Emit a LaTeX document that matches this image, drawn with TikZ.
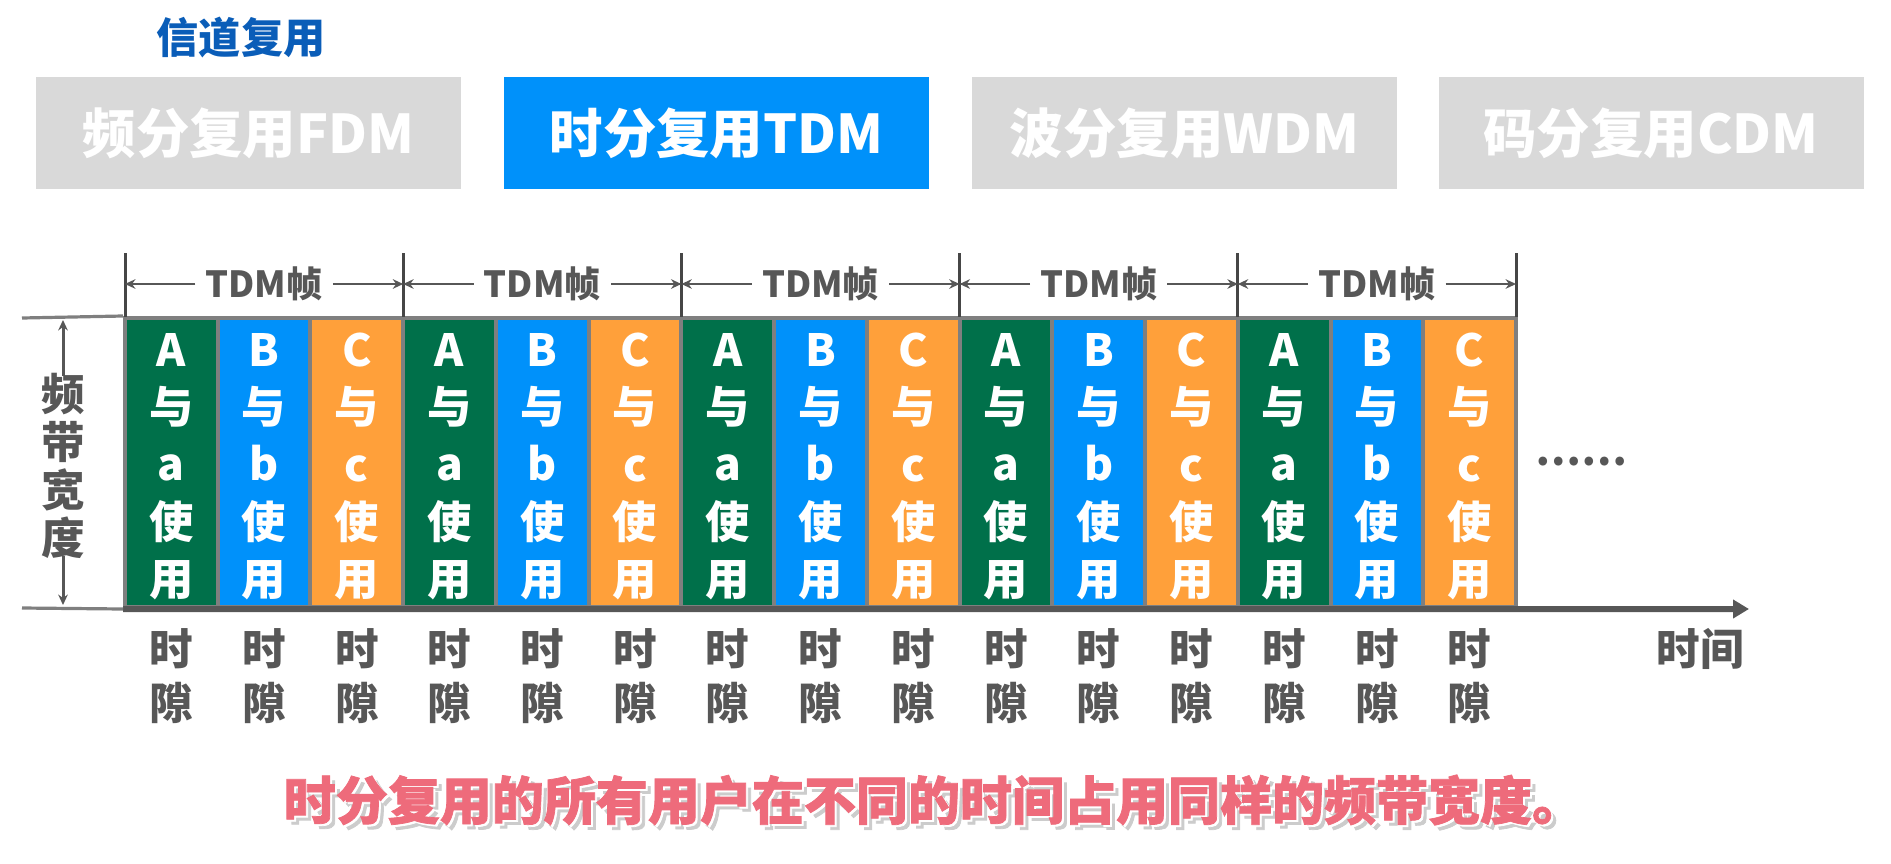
\documentclass[tikz,border=0pt]{standalone}
\usepackage{fontspec}
\setmainfont{Noto Sans CJK SC}
\newfontfamily\heavyfont{Noto Sans CJK SC}[BoldFeatures={FakeBold=1.4}]
\usepackage{xcolor}
\definecolor{TitleBlue}{HTML}{0A5DB8}
\definecolor{TabGray}{HTML}{D9D9D9}
\definecolor{TabBlue}{HTML}{0091FA}
\definecolor{SlotGreen}{HTML}{00704A}
\definecolor{SlotBlue}{HTML}{0091FA}
\definecolor{SlotOrange}{HTML}{FFA03A}
\definecolor{Rule}{HTML}{7F7F7F}
\definecolor{Ink}{HTML}{575757}
\definecolor{Note}{HTML}{EE6B7B}
\usepackage{tikz}
\usetikzlibrary{arrows.meta}
\newcommand\fs[2]{\fontsize{#1}{#2}\selectfont\bfseries}

\begin{document}
\begin{tikzpicture}[x=0.25mm,y=-0.25mm,
    >={Stealth[length=2.6mm,width=2.4mm]},
    tab/.style={minimum width=106.25mm,minimum height=28mm,inner sep=0pt,
                fill=TabGray,text=white,font=\fs{38}{40}},   % method tabs
    slot/.style={draw=Rule,line width=1mm,minimum width=23.18mm,
                 minimum height=72.25mm,inner sep=0pt},     % one time slot
    user/.style={align=center,text=white,font=\fs{31.5}{40.8}},
    gap/.style={align=center,text=Ink,font=\fs{31}{38.4}},  % 时隙 under a slot
    framelbl/.style={text=Ink,inner sep=2.5mm,font=\fs{25.6}{27}},
    frame/.style={draw=Ink,line width=0.55mm},
    tick/.style={draw=Ink!80!black,line width=0.75mm},
    hline/.style={draw=Rule,line width=0.8mm},
    axis/.style={draw=Ink,line width=1.5mm,-{Triangle[length=4mm,width=4.5mm]}},
    note/.style={font=\heavyfont\fs{37}{39}},
  ]
  \def\X{125}     % left edge of the first slot
  \def\W{92.73}   % width of one slot
  \def\F{278.2}   % width of one TDM frame

  \useasboundingbox (0,0) rectangle (1891,864);

  % ---------- heading and method tabs ----------
  \node[font=\fs{30}{32},text=TitleBlue] (title) at (241,38) {信道复用};
  \node[tab] (fdm) at (248.5,133) {频分复用FDM};
  \node[tab,fill=TabBlue] (tdm) at (716.5,133) {时分复用TDM};
  \node[tab] (wdm) at (1184.5,133) {波分复用WDM};
  \node[tab] (cdm) at (1651,133) {码分复用CDM};

  % ---------- slots: 5 frames of A/B/C ----------
  \coordinate (gapline) at (0,676);
  \foreach \f in {0,...,4}
    \foreach \k/\U/\lc/\col in {0/A/a/SlotGreen,1/B/b/SlotBlue,2/C/c/SlotOrange}
      {\pgfmathtruncatemacro\n{3*\f+\k}
       \node[slot,fill=\col] (s\n) at (\X+\n*\W+\W/2,462.5) {};
       \node[user] (u\n) at ([yshift=-1mm]s\n.center) {\U\\与\\\lc\\使\\用};
       \node[gap] (g\n) at (s\n |- gapline) {时\\隙};}

  % ---------- TDM frame marks ----------
  \foreach \f in {0,...,5}
    {\coordinate (f\f) at (\X+\f*\F,284);
     \draw[tick] (f\f) ++(0,-31) -- ++(0,64);}
  \foreach \f in {0,...,4}
    {\pgfmathtruncatemacro\g{\f+1}
     \node[framelbl] (t\f) at (\X+\f*\F+\F/2,284) {TDM帧};
     \draw[frame,->] (t\f.west) -- (f\f);
     \draw[frame,->] (t\f.east) -- (f\g);}

  % ---------- time axis ----------
  \coordinate (tip) at (1749,609);
  \draw[axis] (s0.south west) -- (tip);
  \node[gap] (time) at (1700,649) {时间};
  \node[text=Ink,font=\fs{29}{30}] (more) at (1581,462) {……};

  % ---------- bandwidth ----------
  \coordinate (bt) at (22,318);
  \coordinate (bb) at (22,608);
  \draw[hline] (bt) -- (s0.north west);
  \draw[hline] (bb) -- (s0.south west);
  \node[align=center,text=Ink,inner ysep=-0.6mm,font=\fs{31}{34}] (bw) at (63,466)
       {频\\带\\宽\\度};
  \coordinate (bwt) at (63,320);
  \coordinate (bwb) at (63,605);
  \draw[frame,line width=0.75mm,->] (bw.north) -- (bwt);
  \draw[frame,line width=0.75mm,->] (bw.south) -- (bwb);

  % ---------- note, with its shade ----------
  \node[note,text=black!20] (noteshade) at (939,805)
       {时分复用的所有用户在不同的时间占用同样的频带宽度。};
  \node[note,text=white] (noteedge) at (936,802)
       {时分复用的所有用户在不同的时间占用同样的频带宽度。};
  \node[note,text=Note] (note) at (934,800)
       {时分复用的所有用户在不同的时间占用同样的频带宽度。};
\end{tikzpicture}
\end{document}
